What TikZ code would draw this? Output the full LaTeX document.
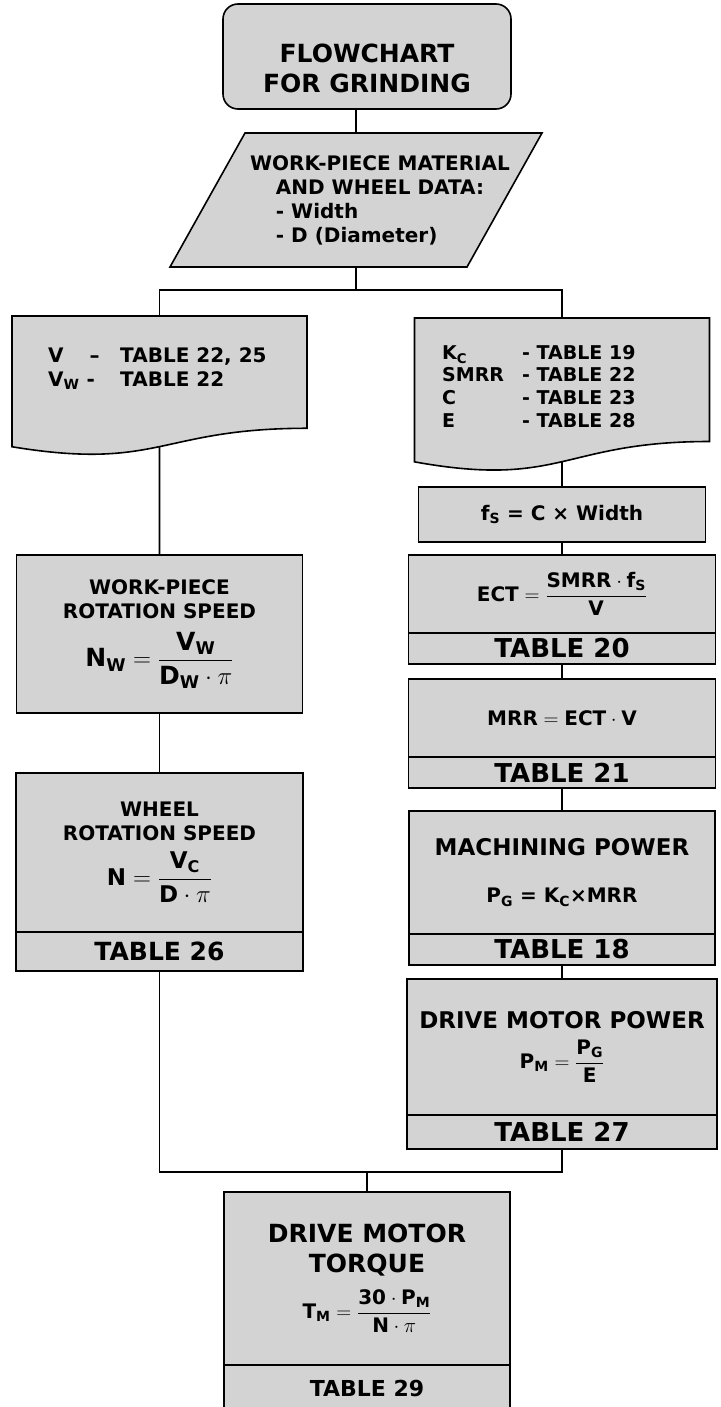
\documentclass[tikz,border=0pt]{standalone}
\usepackage{amsmath}
\usepackage{fontspec}
\setmainfont{DejaVu Sans}
\usetikzlibrary{positioning, calc, backgrounds}

\definecolor{boxgray}{RGB}{211,211,211}
\newlength{\datacol}

% paper sheet with a wavy lower edge, drawn behind a node
\newcommand{\sheet}[1]{%
  \begin{scope}[on background layer]
    \path[box] (#1.north west) -- (#1.north east)
      -- ($(#1.north east)!0.802!(#1.south east)$)
      .. controls ($(#1.north)!0.802!(#1.south)$) and ($(#1.north)!1.1075!(#1.south)$)
      .. ($(#1.north west)!0.934!(#1.south west)$) -- cycle;
  \end{scope}
  \coordinate (#1-out) at ($(#1.north)!0.933!(#1.south)$);}

% slanted input box behind a node
\newcommand{\slanted}[2]{%
  \begin{scope}[on background layer]
    \path[box] ([xshift=#2]#1.north west) -- (#1.north east)
      -- ([xshift=-#2]#1.south east) -- (#1.south west) -- cycle;
  \end{scope}}

\begin{document}
\begin{tikzpicture}[
    x=1pt, y=-1pt,
    box/.style={draw=black, fill=boxgray, line width=1.6pt},
    headbox/.style={box, rectangle, rounded corners=15pt, minimum width=288pt, minimum height=105pt},
    plainbox/.style={rectangle, inner sep=0pt, outer sep=0pt},
    calcbox/.style={box, rectangle, outer sep=0pt, inner sep=2pt, align=center,
        font=\fontsize{20}{24}\selectfont\bfseries},
    tabbox/.style={box, rectangle, outer sep=0pt, inner sep=0pt, minimum height=31pt,
        font=\fontsize{26}{30}\selectfont\bfseries},
    txt/.style={inner sep=0pt, align=center, font=\fontsize{20}{24}\selectfont\bfseries},
    link/.style={line width=1.6pt}
]
\useasboundingbox (0,0) rectangle (720,1407);

% Start
\node[headbox] (head) at (367,56.5) {};
\node[txt, font=\fontsize{25}{30}\selectfont\bfseries] (head-txt) at ([yshift=-12pt]head.center) {FLOWCHART\\FOR GRINDING};

% Input data
\node[plainbox, minimum width=372pt, minimum height=134pt] (data) at (356,200) {};
\slanted{data}{75pt}
\node[txt, xshift=24pt] (data-txt) at (data.center) {\settowidth{\datacol}{AND WHEEL DATA:}\global\datacol=\datacol WORK-PIECE MATERIAL\\AND WHEEL DATA:\\\makebox[\datacol][l]{- Width}\\\makebox[\datacol][l]{- D (Diameter)}};
\coordinate[below=23pt of data] (split);

% Table sheets
\node[plainbox, minimum width=295pt, minimum height=140pt] (vdoc) at (159.5,386) {};
\sheet{vdoc}
\node[txt, anchor=north west, align=left] (vdoc-txt) at ([xshift=36pt, yshift=-31pt]vdoc.north west)
  {\makebox[72pt][l]{V\hspace{26pt}--}TABLE 22, 25\\\makebox[72pt][l]{V\textsubscript{W} -}TABLE 22};

\node[plainbox, minimum width=295pt, minimum height=154pt] (kdoc) at (562,395) {};
\sheet{kdoc}
\node[txt, anchor=north west, align=left, font=\fontsize{19}{22.7}\selectfont\bfseries] (kdoc-txt) at ([xshift=27.5pt, yshift=-27pt]kdoc.north west)
  {\makebox[80pt][l]{K\textsubscript{C}}- TABLE 19\\\makebox[80pt][l]{SMRR}- TABLE 22\\\makebox[80pt][l]{C}- TABLE 23\\\makebox[80pt][l]{E}- TABLE 28};

% Right column
\node[calcbox, minimum width=287pt, minimum height=55pt, below=15pt of kdoc] (fs) {f\textsubscript{S} = C × Width};
\node[calcbox, minimum width=307pt, minimum height=78pt, below=13pt of fs] (ect) {$\text{ECT} = \dfrac{\text{SMRR}\cdot\text{f}_{\text{S}}}{\text{V}}$};
\node[tabbox, minimum width=307pt, below=0pt of ect] (ect-tab) {TABLE 20};
\node[calcbox, minimum width=307pt, minimum height=78pt, below=15pt of ect-tab] (mrr) {$\text{MRR} = \text{ECT}\cdot\text{V}$};
\node[tabbox, minimum width=307pt, below=0pt of mrr] (mrr-tab) {TABLE 21};
\node[calcbox, minimum width=306pt, minimum height=123pt, below=23pt of mrr-tab] (pg) {{\fontsize{23}{27}\selectfont MACHINING POWER}\\[23pt]P\textsubscript{G} = K\textsubscript{C}×MRR};
\node[tabbox, minimum width=306pt, below=0pt of pg] (pg-tab) {TABLE 18\hspace{30pt}};
\node[calcbox, minimum width=310pt, minimum height=136pt, below=14pt of pg-tab] (pm) {{\fontsize{23}{27}\selectfont DRIVE MOTOR POWER}\\[10pt]$\text{P}_{\text{M}} = \dfrac{\text{P}_{\text{G}}}{\text{E}}$};
\node[tabbox, minimum width=310pt, minimum height=34pt, below=0pt of pm] (pm-tab) {TABLE 27};

% Left column
\node[calcbox, minimum width=286pt, minimum height=158pt, below=99pt of vdoc] (nw) {WORK-PIECE\\ROTATION SPEED\\[12pt]{\fontsize{25}{30}\selectfont $\text{N}_{\text{W}} = \dfrac{\text{V}_{\text{W}}}{\text{D}_{\text{W}}\cdot\pi}$}};
\node[calcbox, minimum width=287pt, minimum height=159pt, below=60pt of nw] (nwh) {WHEEL\\ROTATION SPEED\\[10pt]{\fontsize{23}{27}\selectfont $\text{N} = \dfrac{\text{V}_{\text{C}}}{\text{D}\cdot\pi}$}};
\node[tabbox, minimum width=287pt, minimum height=39pt, font=\fontsize{25}{30}\selectfont\bfseries, below=0pt of nwh] (nwh-tab) {TABLE 26\hspace{20pt}};

% Torque
\coordinate (join) at (367,1172);
\node[calcbox, minimum width=286pt, minimum height=173pt, below=20pt of join, font=\fontsize{25}{30}\selectfont\bfseries] (tm) {DRIVE MOTOR\\TORQUE\\[12pt]{\fontsize{20}{24}\selectfont $\text{T}_{\text{M}} = \dfrac{\text{30}\cdot\text{P}_{\text{M}}}{\text{N}\cdot\pi}$}};
\node[tabbox, minimum width=286pt, minimum height=46pt, font=\fontsize{22}{26}\selectfont\bfseries, below=0pt of tm] (tm-tab) {TABLE 29};

% Connectors
\draw[link] (head.south -| data.north) -- (data.north);
\draw[link] (data.south) -- (split);
\draw[link] (vdoc.north) -- (vdoc.north |- split) -- (kdoc.north |- split) -- (kdoc.north);
\draw[link] (vdoc-out) -- (nw.north);
\draw[link] (nw) -- (nwh);
\draw[link] (kdoc-out) -- (fs.north);
\draw[link] (fs) -- (ect);
\draw[link] (ect-tab) -- (mrr);
\draw[link] (mrr-tab) -- (pg);
\draw[link] (pg-tab) -- (pm);
\draw[link] (nwh-tab.south) -- (nwh-tab.south |- join) -- (pm-tab.south |- join) -- (pm-tab.south);
\draw[link] (join) -- (tm.north);

\end{tikzpicture}
\end{document}
